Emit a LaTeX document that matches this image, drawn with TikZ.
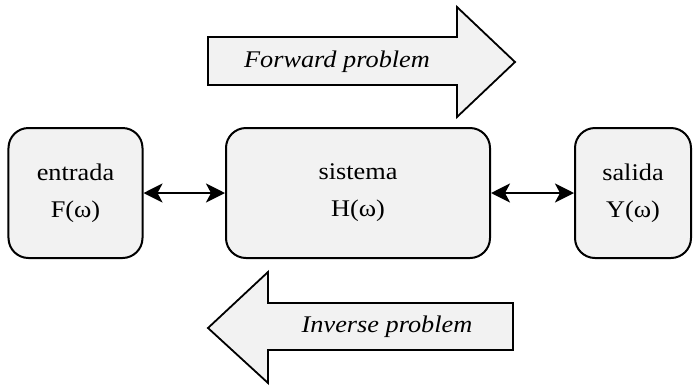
\documentclass[tikz,border=0pt]{standalone}
\usepackage{fontspec}
\setmainfont{Liberation Serif}[FakeStretch=1.1]
\usetikzlibrary{arrows.meta}
\definecolor{boxfill}{HTML}{F2F2F2}
\tikzset{
  blk/.style={draw=black, line width=2bp, fill=boxfill, rounded corners=20bp,
    minimum height=130bp, inner sep=0pt, align=center, font=\fontsize{24}{37}\selectfont},
  bigarrow/.style={draw=black, line width=1.8bp, fill=boxfill, line join=miter},
  lbl/.style={font=\fontsize{24}{28}\selectfont\itshape, inner sep=0pt},
  conn/.style={line width=2.6bp, {Stealth[length=19bp,width=19bp,inset=5bp]}-{Stealth[length=19bp,width=19bp,inset=5bp]}}
}
\begin{document}
\begin{tikzpicture}[x=1bp,y=-1bp]
\useasboundingbox (0,0) rectangle (699,385);
% forward arrow
\draw[bigarrow] (208,37) -- (457,37) -- (457,7) -- (515,62) -- (457,117) -- (457,85) -- (208,85) -- cycle;
\node[lbl] (fwd) at (337,62) {Forward problem};
% inverse arrow
\draw[bigarrow] (513,303) -- (268,303) -- (268,272) -- (208,328) -- (268,383) -- (268,350) -- (513,350) -- cycle;
\node[lbl] (inv) at (387,327) {Inverse problem};
% boxes
\node[blk, minimum width=134bp] (in) at (75.5,193) {entrada\\F(ω)};
\node[blk, minimum width=264bp] (sys) at (358,193) {sistema\\H(ω)};
\node[blk, minimum width=116bp] (out) at (633,193) {salida\\Y(ω)};
\draw[conn] (in.east) -- (sys.west);
\draw[conn] (sys.east) -- (out.west);
\end{tikzpicture}
\end{document}
